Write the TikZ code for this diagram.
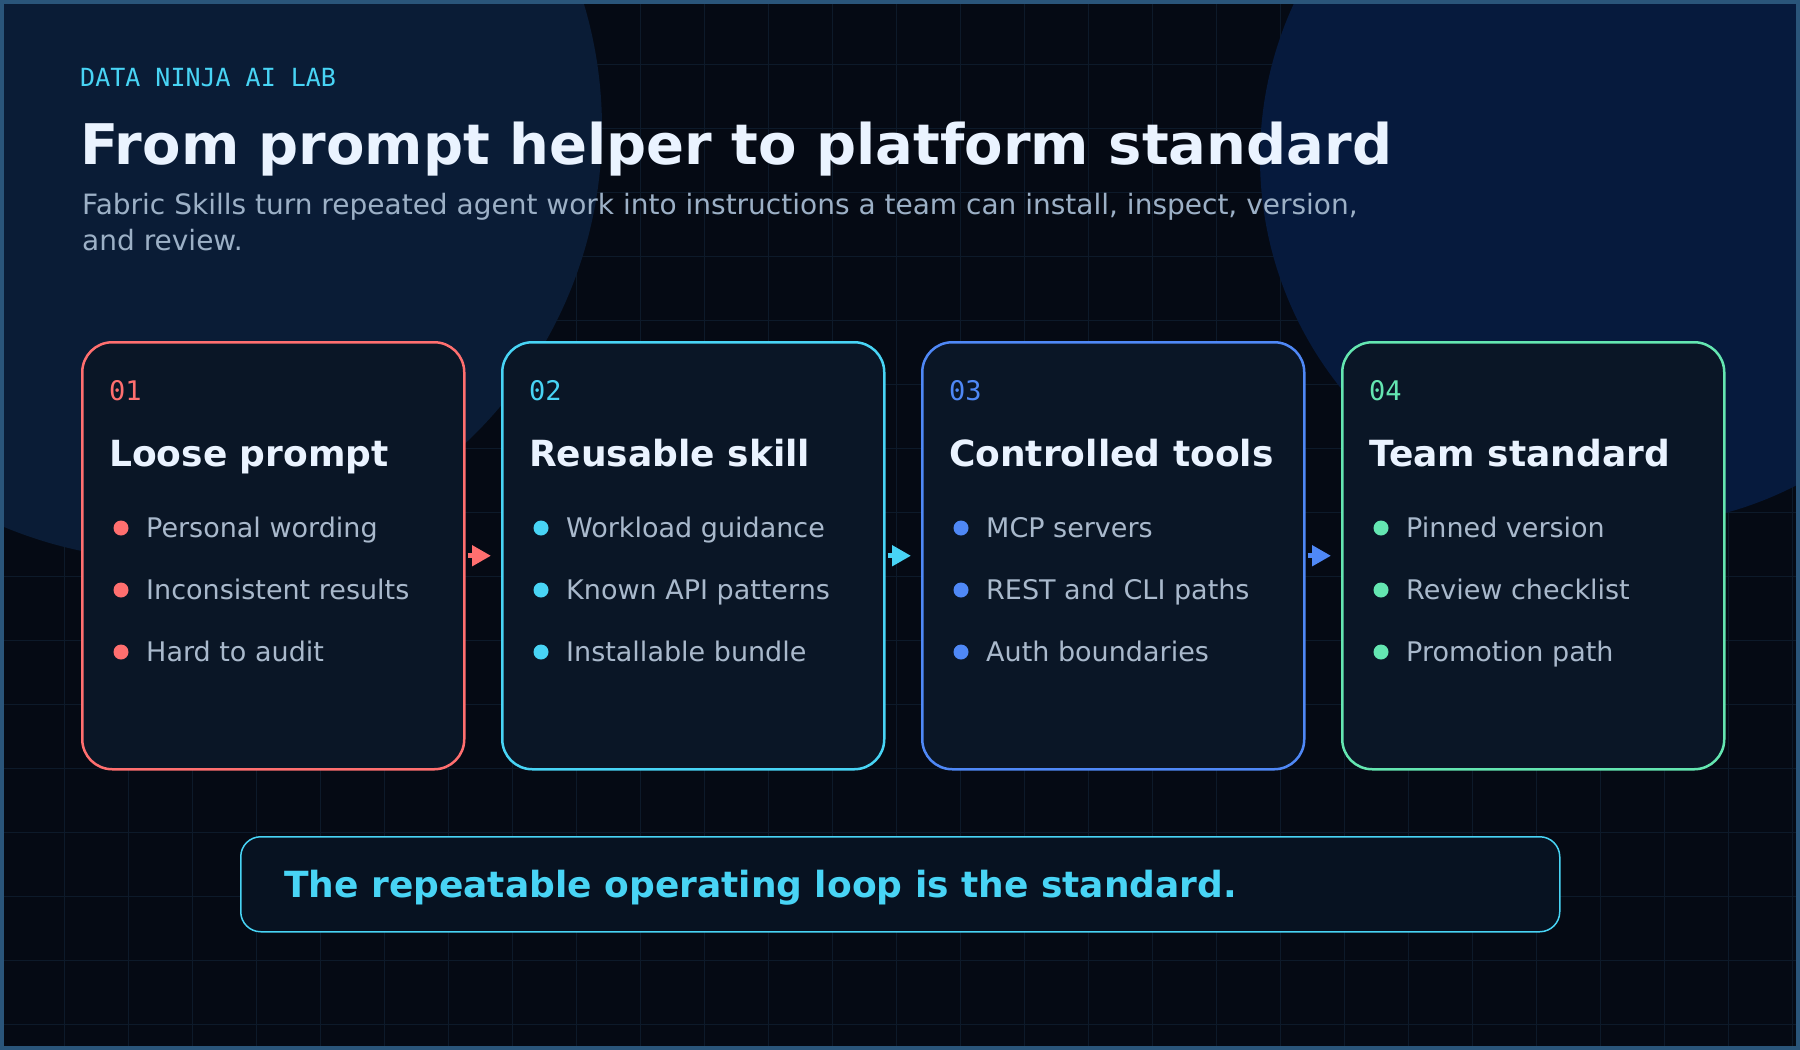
\documentclass[tikz,border=0pt]{standalone}
\usepackage{fontspec}
\setmainfont{DejaVu Sans}
\setmonofont{DejaVu Sans Mono}
\usepackage{tikz}
\usetikzlibrary{arrows.meta,positioning,calc}
\definecolor{Night}{HTML}{050A14}
\definecolor{GridLine}{HTML}{0D1A2A}
\definecolor{LeftGlow}{HTML}{0A1C36}
\definecolor{RightGlow}{HTML}{061A3D}
\definecolor{Frame}{HTML}{2A557A}
\definecolor{CardFill}{HTML}{0A1626}
\definecolor{BannerFill}{HTML}{071221}
\definecolor{TitleWhite}{HTML}{EAF3FF}
\definecolor{SubGray}{HTML}{9CB0C6}
\definecolor{ItemGray}{HTML}{A9B9CC}
\definecolor{cRed}{HTML}{FF6F6F}
\definecolor{cCyan}{HTML}{48D4F5}
\definecolor{cBlue}{HTML}{4F88F6}
\definecolor{cMint}{HTML}{64E6B1}

\begin{document}
\begin{tikzpicture}[
    x=1pt, y=-1pt,
    card/.style={draw=#1, line width=2.5pt, fill=CardFill, rounded corners=30pt, minimum width=382pt, minimum height=427pt, inner sep=0pt},
    num/.style={anchor=base west, inner sep=0pt, font=\ttfamily\fontsize{27}{32}\selectfont, text=#1},
    ttl/.style={anchor=base west, inner sep=0pt, font=\bfseries\fontsize{36}{43}\selectfont, text=TitleWhite},
    item/.style={anchor=base west, inner sep=0pt, font=\fontsize{27}{32}\selectfont, text=ItemGray},
    dot/.style={circle, fill=#1, minimum size=15pt, inner sep=0pt},
    banner/.style={draw=cCyan, line width=1.5pt, fill=BannerFill, rounded corners=20pt, minimum width=1319pt, minimum height=95pt, inner sep=0pt},
    arr/.style={-{Triangle[length=19pt,width=20pt]}, line width=5pt, draw=#1, shorten <=2pt, shorten >=10pt}
]
\useasboundingbox (0,0) rectangle (1800,1050);
\begin{scope}
\clip (0,0) rectangle (1800,1050);
\fill[Night] (0,0) rectangle (1800,1050);
% grid
\foreach \gx in {64,128,...,1792}{\draw[GridLine, line width=1pt] (\gx,0) -- (\gx,1050);}
\foreach \gy in {64,128,...,1024}{\draw[GridLine, line width=1pt] (0,\gy) -- (1800,\gy);}
% glows
\fill[LeftGlow] (170,128) circle[radius=432pt];
\fill[RightGlow] (1628,158) circle[radius=368pt];
\end{scope}
\draw[Frame, line width=4pt] (2,2) rectangle (1798,1048);

% header
\node[anchor=base west, inner sep=0pt, font=\ttfamily\fontsize{25}{30}\selectfont, text=cCyan] (lab) at (80,86) {DATA NINJA AI LAB};
\node[anchor=base west, inner sep=0pt, font=\bfseries\fontsize{56}{67}\selectfont, text=TitleWhite] (head) at (80,164) {From prompt helper to platform standard};
\node[anchor=base west, inner sep=0pt, font=\fontsize{28}{35}\selectfont, text=SubGray] (sub1) at (82,214) {Fabric Skills turn repeated agent work into instructions a team can install, inspect, version,};
\node[anchor=base west, inner sep=0pt, font=\fontsize{28}{35}\selectfont, text=SubGray] (sub2) at (82,250) {and review.};

% cards
\node[card=cRed, anchor=north west] (c1) at (81,341) {};
\node[card=cCyan, right=35.5pt of c1] (c2) {};
\node[card=cBlue, right=35.5pt of c2] (c3) {};
\node[card=cMint, right=35.5pt of c3] (c4) {};

\foreach \i/\col/\ttl/\pa/\pb/\pc in {
  1/cRed/Loose prompt/Personal wording/Inconsistent results/Hard to audit,
  2/cCyan/Reusable skill/Workload guidance/Known API patterns/Installable bundle,
  3/cBlue/Controlled tools/MCP servers/REST and CLI paths/Auth boundaries,
  4/cMint/Team standard/Pinned version/Review checklist/Promotion path}{
  \node[num=\col] (n\i) at ([shift={(28,59)}]c\i.north west) {0\i};
  \node[ttl] (t\i) at ([shift={(28,125)}]c\i.north west) {\ttl};
  \foreach \txt [count=\k] in {\pa,\pb,\pc}{
    \node[dot=\col] (d\i\k) at ([shift={(40,125+62*\k)}]c\i.north west) {};
    \node[item] (p\i\k) at ([shift={(65,134+62*\k)}]c\i.north west) {\txt};
  }
}

\foreach \a/\b/\col in {c1/c2/cRed,c2/c3/cCyan,c3/c4/cBlue}{\draw[arr=\col] (\a) -- (\b);}

% closing line
\node[banner, anchor=north west] (loop) at (240,836) {};
\node[anchor=base west, inner sep=0pt, font=\bfseries\fontsize{36}{43}\selectfont, text=cCyan] (motto) at ([shift={(44,61)}]loop.north west) {The repeatable operating loop is the standard.};
\end{tikzpicture}
\end{document}
